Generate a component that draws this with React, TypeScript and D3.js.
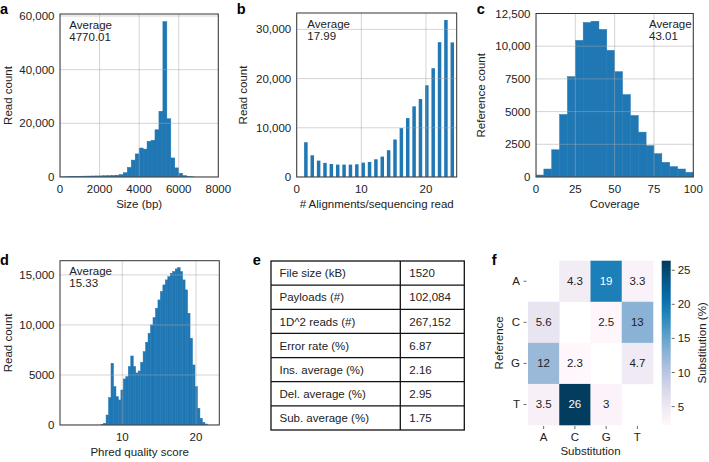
import React from 'react';
import * as d3 from 'd3';

const FONT = 'Liberation Sans, Arial, Helvetica, sans-serif';
const BLUE = '#1f77b4';
const INK = '#222';

// a: read size histogram (200 bp bins starting at 0)
const sizeBinStart = 0;
const sizeBinWidth = 200;
const sizeCounts = [
  30, 80, 150, 200, 250, 300, 320, 350, 380, 400,
  430, 470, 520, 580, 680, 900, 1600, 3600, 6300, 8600,
  10800, 10400, 13300, 13700, 17600, 24500, 57900, 21700, 7100, 3400,
  1400, 500, 150, 50,
];

// b: alignments per sequencing read
const alignBinStart = 0.93;
const alignBinWidth = 0.985;
const alignCounts = [
  7070, 4420, 3330, 2860, 2650, 2520, 2520, 2520, 2580, 2920,
  3060, 3600, 4150, 5440, 7620, 9930, 11970, 14350, 15850, 18640,
  22100, 27400, 31900, 27350,
];

// c: coverage per reference (bins of 5)
const coverageBinStart = 0;
const coverageBinWidth = 5;
const coverageCounts = [
  150, 610, 2080, 4780, 7670, 10440, 11810, 11910, 11280, 9680,
  8050, 6300, 4700, 3430, 2390, 1780, 1120, 790, 610, 360,
];

// d: phred quality score
const phredBinStart = 7.13;
const phredBinWidth = 0.335;
const phredCounts = [
  60, 170, 1000, 2730, 6170, 3830, 2830, 2500, 3500, 4600,
  4830, 5830, 6900, 5830, 5200, 5400, 6270, 7330, 8270, 9170,
  10000, 10730, 11670, 12500, 13330, 14000, 14500, 14830, 15170, 15330,
  15600, 15730, 15330, 14500, 13500, 11170, 8670, 6000, 3830, 1670,
  670, 270, 100,
];

// e: summary table
const tableLabels = [
  'File size (kB)', 'Payloads (#)', '1D^2 reads (#)', 'Error rate (%)',
  'Ins. average (%)', 'Del. average (%)', 'Sub. average (%)',
];
const tableValues = ['1520', '102,084', '267,152', '6.87', '2.16', '2.95', '1.75'];

// f: substitution matrix (rows = reference, cols = substitution)
const bases = ['A', 'C', 'G', 'T'];
const subMatrix: (number | null)[][] = [
  [null, 4.3, 19, 3.3],
  [5.6, null, 2.5, 13],
  [12, 2.3, null, 4.7],
  [3.5, 26, 3, null],
];
const subMin = 2.3;
const subMax = 26.4;
const cbarTicks = [5, 10, 15, 20, 25];

const fmtCount = (v: number) => (v >= 10000 ? d3.format(',')(v) : String(v));

type Bar = { x0: number; x1: number; v: number };

function binsOf(start: number, width: number, counts: number[], frac = 1): Bar[] {
  return counts.map((v, i) => {
    const lo = start + i * width;
    const pad = (width * (1 - frac)) / 2;
    return { x0: lo + pad, x1: lo + width - pad, v };
  });
}

function Hist(props: {
  id: string;
  left: number; right: number; top: number; bottom: number;
  xDomain: [number, number]; yDomain: [number, number];
  xTicks: number[]; yTicks: number[];
  bars: Bar[]; joined: boolean;
  xLabel: string; yLabel: string; yLabelX: number; xLabelY: number;
  avgLines: string[]; avgX: number;
}) {
  const { id, left, right, top, bottom, bars } = props;
  const x = d3.scaleLinear(props.xDomain, [left, right]);
  const y = d3.scaleLinear(props.yDomain, [bottom, top]);
  return (
    <g fontFamily={FONT}>
      <clipPath id={id}>
        <rect x={left} y={top} width={right - left} height={bottom - top} />
      </clipPath>
      <g clipPath={`url(#${id})`}>
        {bars.map((b, i) => (
          <rect key={i} x={x(b.x0)} y={y(b.v)} width={x(b.x1) - x(b.x0)} height={y(0) - y(b.v)}
            fill={BLUE} stroke={props.joined ? BLUE : 'none'} strokeWidth={0.5} />
        ))}
        <g stroke="#a8a8a8" strokeOpacity={0.55} strokeWidth={0.9}>
          {props.xTicks.map((t) => (
            <line key={'gx' + t} x1={x(t)} x2={x(t)} y1={top} y2={bottom} />
          ))}
          {props.yTicks.map((t) => (
            <line key={'gy' + t} x1={left} x2={right} y1={y(t)} y2={y(t)} />
          ))}
        </g>
      </g>
      <rect x={left} y={top} width={right - left} height={bottom - top} fill="none" stroke="#333" strokeWidth={1} />
      <g fontSize={11.5} fill={INK}>
        {props.xTicks.map((t) => (
          <text key={'tx' + t} x={x(t)} y={bottom + 16} textAnchor="middle">{fmtCount(t)}</text>
        ))}
        {props.yTicks.map((t) => (
          <text key={'ty' + t} x={left - 5.5} y={y(t) + 4} textAnchor="end">{fmtCount(t)}</text>
        ))}
        <text x={(left + right) / 2} y={props.xLabelY} textAnchor="middle">{props.xLabel}</text>
        <text transform={`translate(${props.yLabelX},${(top + bottom) / 2}) rotate(-90)`} textAnchor="middle">{props.yLabel}</text>
        {props.avgLines.map((s, i) => (
          <text key={'av' + i} x={props.avgX} y={top + 14.5 + i * 12} >{s}</text>
        ))}
      </g>
    </g>
  );
}

function PanelLabel({ x, y, t }: { x: number; y: number; t: string }) {
  return <text x={x} y={y} fontFamily={FONT} fontWeight="bold" fontSize={14.5} fill="#000">{t}</text>;
}

function Table() {
  const left = 271, right = 464.3, top = 261, bottom = 430, split = 400.3;
  const row = d3.scaleBand<number>(d3.range(tableLabels.length), [top, bottom]);
  return (
    <g fontFamily={FONT} fontSize={11.5} fill={INK}>
      {tableLabels.map((lab, i) => (
        <g key={lab}>
          <text x={left + 8.5} y={(row(i) as number) + row.bandwidth() / 2 + 4.2}>{lab}</text>
          <text x={split + 9} y={(row(i) as number) + row.bandwidth() / 2 + 4.2}>{tableValues[i]}</text>
        </g>
      ))}
      <g stroke="#111" strokeWidth={1.3} fill="none">
        <rect x={left} y={top} width={right - left} height={bottom - top} />
        <line x1={split} x2={split} y1={top} y2={bottom} />
        {d3.range(1, tableLabels.length).map((i) => (
          <line key={i} x1={left} x2={right} y1={row(i)} y2={row(i)} />
        ))}
      </g>
    </g>
  );
}

function Heatmap() {
  const left = 528, right = 653, top = 260.7, bottom = 425;
  const xb = d3.scaleBand(bases, [left, right]);
  const yb = d3.scaleBand(bases, [top, bottom]);
  const color = d3.scaleSequential(d3.interpolatePuBu).domain([subMin, subMax]);
  const cx0 = 661.7, cx1 = 670.7;
  const cy = d3.scaleLinear([subMin, subMax], [bottom, top]);
  const stops = d3.range(0, 1.0001, 0.05);
  const textColor = (v: number) => {
    const c = d3.rgb(color(v));
    const lum = 0.2126 * c.r + 0.7152 * c.g + 0.0722 * c.b;
    return lum < 120 ? '#fff' : INK;
  };
  return (
    <g fontFamily={FONT} fontSize={11.5}>
      <defs>
        <linearGradient id="cbar" x1="0" y1="1" x2="0" y2="0">
          {stops.map((t) => (
            <stop key={t} offset={t} stopColor={d3.interpolatePuBu(t)} />
          ))}
        </linearGradient>
      </defs>
      {subMatrix.map((r, i) =>
        r.map((v, j) =>
          v == null ? null : (
            <g key={i + '-' + j}>
              <rect x={xb(bases[j])} y={yb(bases[i])} width={xb.bandwidth() + 0.3} height={yb.bandwidth() + 0.3} fill={color(v)} />
              <text x={(xb(bases[j]) as number) + xb.bandwidth() / 2} y={(yb(bases[i]) as number) + yb.bandwidth() / 2 + 4}
                textAnchor="middle" fill={textColor(v)}>{d3.format('.2~g')(v)}</text>
            </g>
          )
        )
      )}
      <g fill={INK}>
        {bases.map((b) => (
          <g key={'r' + b}>
            <line x1={523.5} x2={526.5} y1={(yb(b) as number) + yb.bandwidth() / 2} y2={(yb(b) as number) + yb.bandwidth() / 2} stroke="#444" strokeWidth={0.8} />
            <text x={520} y={(yb(b) as number) + yb.bandwidth() / 2 + 4} textAnchor="end">{b}</text>
          </g>
        ))}
        {bases.map((b) => (
          <g key={'c' + b}>
            <line x1={(xb(b) as number) + xb.bandwidth() / 2} x2={(xb(b) as number) + xb.bandwidth() / 2} y1={426} y2={429} stroke="#444" strokeWidth={0.8} />
            <text x={(xb(b) as number) + xb.bandwidth() / 2} y={441} textAnchor="middle">{b}</text>
          </g>
        ))}
        <text x={(left + right) / 2} y={455} textAnchor="middle">Substitution</text>
        <text transform={`translate(503,${(top + bottom) / 2}) rotate(-90)`} textAnchor="middle">Reference</text>
      </g>
      <rect x={cx0} y={top} width={cx1 - cx0} height={bottom - top} fill="url(#cbar)" />
      <g fill={INK}>
        {cbarTicks.map((t) => (
          <g key={'cb' + t}>
            <line x1={cx1 + 1} x2={cx1 + 4} y1={cy(t)} y2={cy(t)} stroke="#444" strokeWidth={0.8} />
            <text x={cx1 + 7} y={cy(t) + 4}>{t}</text>
          </g>
        ))}
        <text transform={`translate(706,${(top + bottom) / 2}) rotate(-90)`} textAnchor="middle">Substitution (%)</text>
      </g>
    </g>
  );
}

export default function App() {
  return (
    <svg width={709} height={462} style={{ position: 'absolute', left: 0, top: 0, background: '#fff' }}>
      <rect width={709} height={462} fill="#fff" />
      <Hist id="ca" left={60} right={218.3} top={14} bottom={177}
        xDomain={[0, 8000]} yDomain={[0, 60745]}
        xTicks={[0, 2000, 4000, 6000, 8000]} yTicks={[0, 20000, 40000, 60000]}
        bars={binsOf(sizeBinStart, sizeBinWidth, sizeCounts)} joined
        xLabel="Size (bp)" yLabel="Read count" yLabelX={12} xLabelY={208}
        avgLines={['Average', '4770.01']} avgX={69.3} />
      <Hist id="cb" left={296.7} right={456.7} top={13} bottom={177}
        xDomain={[0, 24.76]} yDomain={[0, 33330]}
        xTicks={[0, 10, 20]} yTicks={[0, 10000, 20000, 30000]}
        bars={binsOf(alignBinStart, alignBinWidth, alignCounts, 0.55)} joined={false}
        xLabel="# Alignments/sequencing read" yLabel="Read count" yLabelX={246.5} xLabelY={208}
        avgLines={['Average', '17.99']} avgX={307.3} />
      <Hist id="cc" left={536} right={693.3} top={13.5} bottom={177}
        xDomain={[0, 100]} yDomain={[0, 12500]}
        xTicks={[0, 25, 50, 75, 100]} yTicks={[0, 2500, 5000, 7500, 10000, 12500]}
        bars={binsOf(coverageBinStart, coverageBinWidth, coverageCounts)} joined
        xLabel="Coverage" yLabel="Reference count" yLabelX={485} xLabelY={208}
        avgLines={['Average', '43.01']} avgX={649} />
      <Hist id="cd" left={60} right={219.3} top={260.7} bottom={425}
        xDomain={[1.55, 23.16]} yDomain={[0, 16420]}
        xTicks={[10, 20]} yTicks={[0, 5000, 10000, 15000]}
        bars={binsOf(phredBinStart, phredBinWidth, phredCounts)} joined
        xLabel="Phred quality score" yLabel="Read count" yLabelX={11.5} xLabelY={456}
        avgLines={['Average', '15.33']} avgX={69.3} />
      <Table />
      <Heatmap />
      <PanelLabel x={0} y={13.5} t="a" />
      <PanelLabel x={236.7} y={13.5} t="b" />
      <PanelLabel x={476.7} y={13.5} t="c" />
      <PanelLabel x={0} y={265} t="d" />
      <PanelLabel x={252.7} y={265} t="e" />
      <PanelLabel x={491.7} y={265} t="f" />
    </svg>
  );
}
